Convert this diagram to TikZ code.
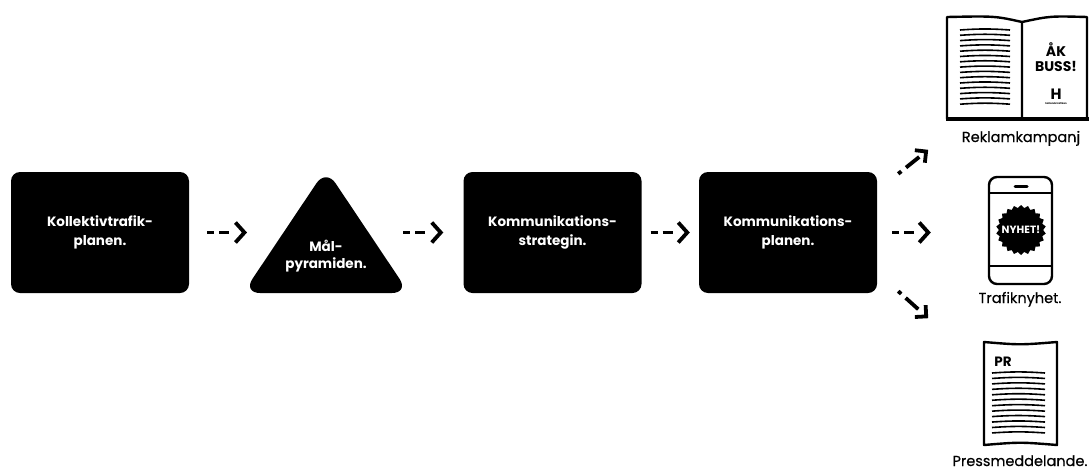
\documentclass[tikz,border=0pt]{standalone}
\usepackage{fontspec}
\setmainfont{Poppins}
\newfontfamily\halvfet{Poppins}[FakeBold=0.5]
\usetikzlibrary{arrows.meta,shapes.geometric}
\tikzset{
	blok/.style={fill=black,rounded corners=9pt,minimum width=178pt,minimum height=121pt,text=white,align=center,inner sep=0pt,font=\fontsize{13.5}{18.5}\selectfont\bfseries},
	flow/.style={line width=3.8pt,dash pattern=on 7pt off 5pt on 10pt off 40pt,-{Straight Barb[length=9pt,width=20pt]}},
	snett/.style={line width=3.8pt,dash pattern=on 4pt off 6pt on 17pt off 40pt,-{Straight Barb[length=8pt,width=16pt]}},
	ikon/.style={line width=2.4pt,line join=round},
	rad/.style={line width=1.6pt},
	etikett/.style={anchor=base,inner sep=0pt,font=\halvfet\fontsize{14.5}{16}\selectfont}
}
\begin{document}
\begin{tikzpicture}[x=1pt,y=-1pt]
	\useasboundingbox (0,0) rectangle (1089,469);
	% flödet
	\node[blok] (k) at (100,232.5) {Kollektivtrafik-\\planen.};
	\fill[rounded corners=17pt] (243,293) -- (326,169) -- (409,293) -- cycle;
	\node[text=white,align=center,inner sep=0pt,font=\fontsize{13.5}{17}\selectfont\bfseries] (m) at (326,256) {Mål-\\pyramiden.};
	\coordinate (mv) at (247,232.5);
	\coordinate (mh) at (403,232.5);
	\node[blok] (s) at (552.5,232.5) {Kommunikations-\\strategin.};
	\node[blok] (p) at (788,232.5) {Kommunikations-\\planen.};
	\draw[flow,shorten <=18pt] (k.east) -- (mv);
	\draw[flow,shorten >=20pt] (mh) -- (s.west);
	\draw[flow,shorten <=9pt,shorten >=9pt] (s.east) -- (p.west);
	% kanalerna
	\node[ikon,draw,rounded corners=8pt,minimum width=63pt,minimum height=107pt] (tel) at (1020.5,230.5) {};
	\draw[flow,shorten <=15pt,shorten >=57pt] (p.east) -- (p.east -| tel.west);
	\draw[snett] ([shift={(21,2)}]p.north east) -- ++(30,-24);
	\draw[snett] ([shift={(21,-2)}]p.south east) -- ++(30,27);
	% bok
	\draw[ikon] (1022,120) -- (1022,22) .. controls (995,16) .. (947,17) -- (947,119);
	\draw[ikon] (1022,22) .. controls (1050,16) .. (1087,17) -- (1087,119);
	\draw[line width=3.6pt] (945.8,119) -- (1089,119);
	\foreach \y in {0,...,14}
		\draw[rad] (960,30+5.3*\y) to[bend left=4] (1010,30+5.3*\y);
	\node[align=center,inner sep=0pt,font=\fontsize{14}{15.5}\selectfont\bfseries] (akbuss) at (1056,57) {ÅK\\BUSS!};
	\node[inner sep=0pt,font=\fontsize{15}{15}\selectfont\bfseries] (logo) at (1056,94) {H};
	\node[inner sep=0pt,font=\fontsize{2.5}{3}\selectfont\bfseries] (logotext) at (1056,104) {hallandstrafiken};
	\node[etikett] (reklam) at (1021,142) {Reklamkampanj};
	% telefon
	\draw[ikon] (989,193) -- (1052,193);
	\draw[ikon] (989,266) -- (1052,266);
	\draw[line width=3pt,line cap=round] (1015,186) -- (1027,186);
	\node[star,star points=22,star point ratio=1.13,fill=black,minimum size=50pt,inner sep=0pt] (stjarna) at (1021,230) {};
	\node[text=white,inner sep=0pt,font=\fontsize{10.5}{11}\selectfont\bfseries] (nyhet) at (stjarna) {NYHET!};
	\node[etikett] (trafik) at (1020,303) {Trafiknyhet.};
	% pressmeddelande
	\draw[ikon] (984,342) .. controls (1020,345) .. (1057,342) -- (1057,445) .. controls (1020,442) .. (984,445) -- cycle;
	\node[inner sep=0pt,font=\fontsize{13.5}{13.5}\selectfont\bfseries] (pr) at (1003,362) {PR};
	\foreach \y in {0,...,11}
		\draw[rad] (992,373+5.45*\y) to[bend left=4] (1045,373+5.45*\y);
	\node[etikett] (press) at (1020,466) {Pressmeddelande.};
\end{tikzpicture}
\end{document}
